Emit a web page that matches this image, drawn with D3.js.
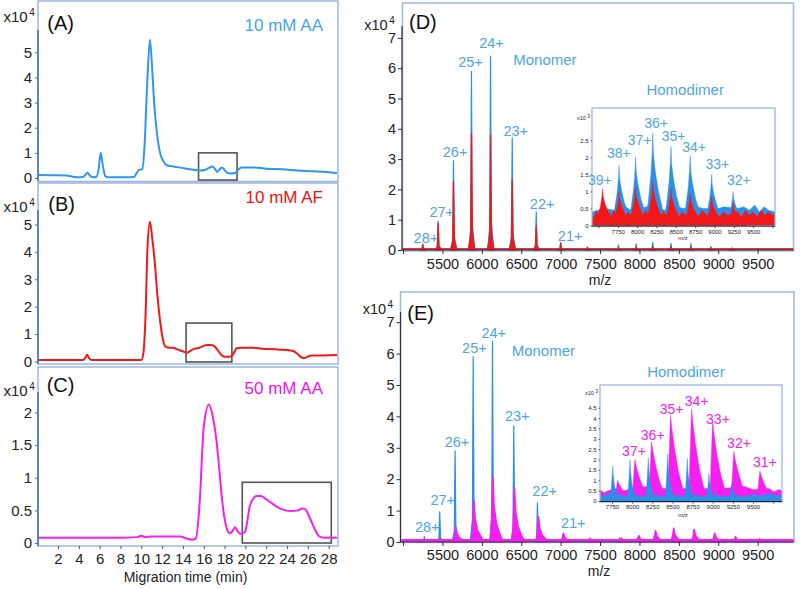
<!DOCTYPE html>
<html><head><meta charset="utf-8">
<script src="https://cdn.jsdelivr.net/npm/d3@7"></script>
<style>
body{margin:0;background:#fff}
svg{display:block}
text{font-family:"Liberation Sans",Arial,Helvetica,sans-serif}
</style>
</head><body>
<svg id="c" width="800" height="589"></svg>
<script>
// ---------------- DATA ----------------
// Capillary electrophoresis traces: [migration time (min), intensity x10^4]
const ceTicks = [2,4,6,8,10,12,14,16,18,20,22,24,26,28];
const ticksAB = [0,1,2,3,4,5];
const ticksC = [0,0.5,1,1.5,2];
const traceA = [[0.1,0.12],[1.5,0.11],[2.8,0.1],[3.3,0.06],[3.8,0.03],[4.4,0.04],[4.65,0.14],[4.85,0.21],[5.05,0.1],[5.35,0.03],[5.7,0.05],[5.9,0.35],[6.1,1.0],[6.3,0.5],[6.55,0.07],[6.8,0.03],[8.5,0.03],[9.3,0.04],[9.55,0.2],[9.8,0.32],[10.1,0.35],[10.3,1.2],[10.55,3.6],[10.83,5.5],[11.05,4.3],[11.25,2.9],[11.5,1.8],[11.8,1.0],[12.1,0.68],[12.5,0.5],[13.2,0.45],[14.2,0.38],[15.0,0.33],[15.6,0.3],[16.1,0.32],[16.5,0.4],[16.8,0.46],[17.05,0.38],[17.3,0.24],[17.55,0.36],[17.75,0.42],[18.0,0.32],[18.25,0.21],[18.6,0.18],[19.0,0.2],[19.3,0.32],[19.6,0.42],[20.7,0.42],[21.5,0.4],[22.3,0.36],[23.5,0.35],[25,0.3],[26.5,0.27],[27.8,0.24],[28.8,0.2]];
const traceB = [[0.1,0.05],[4.4,0.05],[4.65,0.15],[4.8,0.24],[4.95,0.14],[5.2,0.05],[10.0,0.05],[10.2,0.3],[10.4,1.6],[10.6,4.2],[10.83,5.1],[11.05,4.5],[11.3,3.6],[11.55,2.4],[11.8,1.5],[12.05,0.85],[12.3,0.55],[12.7,0.5],[13.05,0.5],[13.5,0.43],[13.9,0.38],[14.35,0.32],[14.7,0.38],[15.0,0.45],[15.6,0.5],[16.3,0.6],[16.7,0.6],[17.05,0.55],[17.4,0.38],[17.7,0.23],[18.0,0.17],[18.4,0.17],[18.7,0.2],[18.95,0.35],[19.15,0.48],[19.6,0.5],[20.8,0.5],[21.6,0.46],[22.4,0.45],[23.3,0.43],[24.0,0.42],[24.6,0.38],[25.0,0.27],[25.4,0.14],[25.7,0.12],[26.0,0.18],[26.4,0.22],[27.5,0.22],[28.8,0.23]];
const traceC = [[0.1,0.08],[2,0.08],[4,0.08],[6,0.08],[8,0.08],[9.6,0.09],[10,0.11],[10.4,0.09],[11,0.1],[12,0.1],[13,0.1],[13.8,0.1],[14.3,0.07],[14.9,0.05],[15.25,0.07],[15.6,0.6],[16.0,1.78],[16.5,2.12],[16.85,1.95],[17.2,1.6],[17.45,1.2],[17.7,0.76],[17.95,0.42],[18.2,0.23],[18.5,0.15],[18.75,0.18],[19.0,0.24],[19.25,0.18],[19.5,0.14],[19.95,0.17],[20.15,0.3],[20.4,0.55],[20.75,0.68],[21.1,0.72],[21.5,0.72],[21.9,0.68],[22.35,0.63],[23.3,0.53],[24.3,0.49],[25.05,0.5],[25.5,0.53],[25.75,0.52],[26.2,0.38],[26.7,0.2],[27.1,0.1],[27.6,0.08],[28.8,0.08]];
// highlight boxes: [tStart, tEnd, low, high]
const boxA = [15.5, 19.2, -0.08, 1.0];
const boxB = [14.3, 18.7, -0.02, 1.4];
const boxC = [19.7, 28.25, 0, 0.93];

// Mass spectra: peaks [m/z, intensity x10^4]
const mzTicks = [5000,5500,6000,6500,7000,7500,8000,8500,9000,9500];
const msTicks = [0,1,2,3,4,5,6,7];
const blueD = [[5250,0.2],[5445,0.95],[5640,2.95],[5868,5.9],[6110,6.4],[6385,3.7],[6690,1.25],[7000,0.25],[7340,0.1],[7732,0.17],[7958,0.2],[8168,0.25],[8400,0.22],[8653,0.2],[8906,0.12],[9180,0.07]];
const redD = [[5250,0.17],[5445,0.88],[5640,2.25],[5868,3.85],[6110,3.8],[6385,2.3],[6690,0.79],[7000,0.22],[7340,0.08],[7732,0.07],[7958,0.08],[8168,0.1],[8400,0.09],[8653,0.08],[8906,0.06],[9180,0.05]];
const blueBaseD = [[4980,0.03],[9955,0.03]];
const redBaseD = [[4980,0.04],[9955,0.04]];
const blueE = [[5270,0.17],[5465,0.96],[5660,2.9],[5890,5.9],[6135,6.4],[6405,3.7],[6705,1.25],[7020,0.12],[7350,0.1],[7750,0.15],[7975,0.15],[8185,0.18],[8415,0.16],[8670,0.12],[8925,0.1],[9200,0.06]];
const magentaE = [[5470,0.1],[5665,0.48],[5895,1.32],[6135,2.08],[6410,1.72],[6715,0.8],[7030,0.28],[7370,0.12],[7770,0.12],[7990,0.2],[8200,0.36],[8430,0.44],[8690,0.4],[8950,0.28],[9215,0.17],[9520,0.1]];
const blueBaseE = [[4980,0.02],[9955,0.02]];
const magentaBaseE = [[4980,0.07],[9955,0.07]];

// charge labels [text, m/z, intensity]
const labelsD = [["24+",6122,6.83],["25+",5855,6.2],["26+",5660,3.23],["23+",6430,3.93],["27+",5490,1.27],["28+",5290,0.39],["22+",6765,1.53],["21+",7120,0.48]];
const labelsE = [["24+",6150,6.67],["25+",5905,6.2],["26+",5685,3.2],["23+",6450,4.01],["27+",5503,1.34],["28+",5306,0.49],["22+",6797,1.62],["21+",7159,0.6]];
const groupLabelsD = [["Monomer",6800,6.27],["Homodimer",8580,5.31]];
const groupLabelsE = [["Monomer",6780,6.11],["Homodimer",8590,5.42]];

// Insets: intensity x10^3
const insetTicks = [7500,7750,8000,8250,8500,8750,9000,9250,9500,9750];
const insetYTicksD = [0,0.5,1,1.5,2,2.5];
const insetYTicksE = [0,0.5,1,1.5,2,2.5,3,3.5,4,4.5];
const blueDi = [[7554,0.55],[7767,1.76],[7981,2.02],[8203,2.72],[8438,2.32],[8686,2.06],[8964,1.5],[9241,1.0]];
const redDi = [[7554,1.08],[7767,0.98],[7981,1.12],[8203,1.3],[8438,1.08],[8686,0.95],[8964,0.85],[9241,0.65]];
const blueBandDi = [[7417,0.4],[7500,0.45],[7600,0.5],[7700,0.45],[7850,0.55],[7920,0.45],[8050,0.5],[8120,0.55],[8300,0.5],[8350,0.45],[8520,0.55],[8600,0.5],[8780,0.55],[8850,0.5],[9050,0.5],[9120,0.55],[9300,0.5],[9380,0.55],[9450,0.45],[9520,0.6],[9580,0.4],[9640,0.55],[9700,0.45],[9782,0.4]];
const redBandDi = [[7417,0.35],[7445,0.2],[7470,0.45],[7500,0.3],[7525,0.5],[7560,0.35],[7620,0.4],[7660,0.25],[7700,0.45],[7730,0.3],[7800,0.35],[7840,0.2],[7880,0.4],[7920,0.3],[8030,0.35],[8070,0.25],[8110,0.45],[8150,0.3],[8260,0.4],[8300,0.25],[8340,0.4],[8380,0.3],[8500,0.35],[8540,0.25],[8580,0.4],[8630,0.3],[8750,0.4],[8790,0.25],[8840,0.45],[8900,0.3],[9020,0.35],[9070,0.25],[9110,0.4],[9170,0.3],[9300,0.4],[9350,0.25],[9400,0.45],[9450,0.3],[9500,0.4],[9550,0.25],[9600,0.45],[9650,0.3],[9700,0.4],[9750,0.3],[9782,0.35]];
const blueEi = [[7759,1.7],[7973,2.0],[8200,2.1],[8441,2.27],[8684,2.06],[8953,1.3],[9235,0.85]];
const magentaEi = [[7820,1.0],[8035,2.0],[8242,2.87],[8478,4.15],[8739,4.45],[9000,3.85],[9263,2.4],[9586,1.45]];
const blueBandEi = [[7601,0.3],[7650,0.25],[7700,0.35],[7850,0.3],[7900,0.2],[8050,0.3],[8100,0.2],[8300,0.3],[8350,0.2],[8550,0.3],[8600,0.2],[8800,0.3],[8850,0.2],[9050,0.3],[9100,0.2],[9300,0.3],[9350,0.2],[9500,0.3],[9600,0.25],[9700,0.35],[9800,0.25],[9860,0.3]];
const magentaBandEi = [[7601,0.55],[7650,0.4],[7700,0.5],[7800,0.6],[7900,0.5],[8000,0.6],[8150,0.7],[8350,0.6],[8600,0.6],[8850,0.6],[9100,0.6],[9400,0.7],[9500,0.55],[9700,0.6],[9760,0.45],[9820,0.55],[9860,0.5]];
const labelsDi = [["39+",7519,1.34],["38+",7763,2.12],["37+",8032,2.51],["36+",8246,3.0],["35+",8472,2.63],["34+",8737,2.3],["33+",9036,1.81],["32+",9314,1.34]];
const labelsEi = [["37+",8023,2.42],["36+",8255,3.19],["35+",8491,4.45],["34+",8800,4.85],["33+",9065,3.97],["32+",9326,2.81],["31+",9648,1.89]];

// ---------------- STYLE ----------------
const C_FRAME = "#9cb6e3", C_AXIS_CE = "#3f6fc0", C_AXIS = "#333";
const C_BLUE_CE = "#2f97ee", C_RED = "#f01818", C_MAG = "#f520ef";
const C_BLUE = "#2d8fe8", C_LBL = "#4ea5e4", C_TXT = "#222";
// peak shapes: [m/z offset, fraction of height]
const shapeMain = [[-38,0],[-10,0.12],[0,1],[10,0.15],[42,0]];
const shapeMag = [[-25,0],[-8,0.45],[4,1],[20,0.55],[50,0.28],[100,0.1],[140,0]];
const shapeInsetD = [[-110,0],[-60,0.25],[-25,0.55],[-8,0.8],[0,1],[8,0.78],[30,0.6],[70,0.38],[120,0.2],[160,0]];
const shapeInsetBlueE = [[-45,0],[-20,0.3],[-6,0.75],[0,1],[8,0.7],[25,0.4],[55,0.15],[85,0]];
const shapeInsetMagE = [[-40,0],[-20,0.5],[-5,0.92],[0,1],[15,0.85],[50,0.6],[100,0.33],[150,0.15],[200,0]];

const svg = d3.select("#c");
const defs = svg.append("defs");
function clip(id,x,y,w,h){defs.append("clipPath").attr("id",id).append("rect").attr("x",x).attr("y",y).attr("width",w).attr("height",h);}
function txt(g,s,x,y,size,color,anchor){return g.append("text").attr("x",x).attr("y",y).attr("font-size",size).attr("fill",color).attr("text-anchor",anchor||"start").text(s);}
function ctxt(g,s,x,yc,size,color,anchor){return txt(g,s,x,yc+0.36*size,size,color,anchor||"middle");}
function frame(x,y,w,h,fill){svg.append("rect").attr("x",x).attr("y",y).attr("width",w).attr("height",h).attr("fill",fill||"none").attr("stroke",C_FRAME).attr("stroke-width",1.5);}
function styleAxis(g,size,color){
  g.select(".domain").remove();
  g.selectAll(".tick line").attr("stroke",color||C_AXIS);
  g.selectAll(".tick text").attr("font-size",size).attr("fill",C_TXT).attr("font-family",'"Liberation Sans",Arial,sans-serif');
}
function sup(g,x,yBase,size,supSize,exp){
  const t=txt(g,"x10",x,yBase,size,C_TXT);
  const w=t.node().getComputedTextLength();
  txt(g,exp,x+w+1.5,yBase-size*0.38,supSize,C_TXT);
}

// ---------------- CE PANELS ----------------
const xCE = d3.scaleLinear().domain([0,28.8]).range([37.2,337]);
const panels = [
  {id:"A",trace:traceA,box:boxA,color:C_BLUE_CE,y:d3.scaleLinear().domain([0,5]).range([178,52.3]),ticks:ticksAB,
   frame:[38,1,300,180.5],axisTop:30,axisBot:181,title:"10 mM AA",titleY:31,tColor:"#47a4e6",lab:[47.3,29.5],sup:22},
  {id:"B",trace:traceB,box:boxB,color:C_RED,y:d3.scaleLinear().domain([0,5]).range([361.4,224.5]),ticks:ticksAB,
   frame:[38,183,300,181],axisTop:210,axisBot:364,title:"10 mM AF",titleY:202.8,tColor:"#ee1111",lab:[48.3,211],sup:212},
  {id:"C",trace:traceC,box:boxC,color:C_MAG,y:d3.scaleLinear().domain([0,2.2]).range([543,399.4]),ticks:ticksC,
   frame:[38,367,300,179],axisTop:392,axisBot:546,title:"50 mM AA",titleY:394.4,tColor:"#ee11ee",lab:[46.7,392],sup:396}
];
panels.forEach(p=>{
  frame(...p.frame);
  const g = svg.append("g");
  clip("cl"+p.id,p.frame[0],p.frame[1],p.frame[2],p.frame[3]);
  const bx=p.box;
  g.append("rect").attr("x",xCE(bx[0])).attr("y",p.y(bx[3])).attr("width",xCE(bx[1])-xCE(bx[0]))
   .attr("height",p.y(bx[2])-p.y(bx[3])).attr("fill","none").attr("stroke","#555").attr("stroke-width",1.6);
  g.append("path").datum(p.trace).attr("clip-path","url(#cl"+p.id+")")
   .attr("d",d3.line().x(d=>xCE(d[0])).y(d=>p.y(d[1])).curve(d3.curveMonotoneX))
   .attr("fill","none").attr("stroke",p.color).attr("stroke-width",2);
  const ya = g.append("g").attr("transform","translate(38,0)")
   .call(d3.axisLeft(p.y).tickValues(p.ticks).tickSize(3).tickPadding(3).tickFormat(d=>d));
  styleAxis(ya,15,C_AXIS_CE);
  g.append("line").attr("x1",38).attr("x2",38).attr("y1",p.axisTop).attr("y2",p.axisBot).attr("stroke",C_AXIS_CE).attr("stroke-width",1.5);
  txt(g,"("+p.id+")",p.lab[0],p.lab[1],20,"#111");
  txt(g,p.title,323,p.titleY,17,p.tColor,"end");
  sup(g,3.5,p.sup,15,10,"4");
});
// C x axis
const xa = svg.append("g").attr("transform","translate(0,546)")
  .call(d3.axisBottom(xCE).tickValues(ceTicks).tickSize(3).tickPadding(4.5));
styleAxis(xa,15,"#555");
txt(svg,"Migration time (min)",185.5,581.5,14,C_TXT,"middle");

// ---------------- MS PANELS ----------------
function drawSpectrum(g,xs,ys,band,peaks,shape,color,lw){
  const area=d3.area().x(d=>xs(d[0])).y0(ys(0)).y1(d=>ys(d[1]));
  if(band){
    g.append("path").datum(band).attr("d",area).attr("fill",color);
    g.append("path").datum(band).attr("d",d3.line().x(d=>xs(d[0])).y(d=>ys(d[1]))).attr("fill","none").attr("stroke",color).attr("stroke-width",lw);
  }
  peaks.forEach(p=>{
    const pts=shape.map(s=>[p[0]+s[0],s[1]*p[1]]);
    g.append("path").datum(pts).attr("d",area).attr("fill",color)
     .attr("stroke",color).attr("stroke-width",lw).attr("stroke-linejoin","round");
  });
}
const xMS = d3.scaleLinear().domain([4980,9955]).range([401.5,793.5]);

function msPanel(o){
  frame(...o.frame);
  const g=svg.append("g");
  clip("cl"+o.id,o.frame[0],o.frame[1],o.frame[2],o.y(0)-o.frame[1]+0.5);
  const sg=g.append("g").attr("clip-path","url(#cl"+o.id+")");
  o.series.forEach(s=>drawSpectrum(sg,xMS,o.y,s.base,s.peaks,s.shape,s.color,s.lw));
  // axes
  const ya=g.append("g").attr("transform",`translate(${o.axisX},0)`)
    .call(d3.axisLeft(o.y).tickValues(msTicks).tickSize(4).tickPadding(2).tickFormat(d=>d));
  styleAxis(ya,14.5);
  g.append("line").attr("x1",o.axisX).attr("x2",o.axisX).attr("y1",o.axisTop).attr("y2",o.y(0)).attr("stroke",C_AXIS).attr("stroke-width",1.2);
  const xa=g.append("g").attr("transform",`translate(0,${o.y(0)})`)
    .call(d3.axisBottom(xMS).tickValues(mzTicks).tickSize(4).tickPadding(o.pad).tickFormat(d=>d>=5500?d:""));
  styleAxis(xa,14.5);
  g.append("line").attr("x1",o.axisX).attr("x2",793.5).attr("y1",o.y(0)).attr("y2",o.y(0)).attr("stroke",C_AXIS).attr("stroke-width",1.2);
  txt(g,"m/z",o.mz[0],o.mz[1],14,C_TXT,"middle");
  txt(g,"("+o.id+")",o.lab[0],o.lab[1],20,"#111");
  sup(g,o.sup[0],o.sup[1],14.5,10,"4");
  // inset
  const ins=o.inset, ig=svg.append("g");
  ig.append("rect").attr("x",ins.frame[0]).attr("y",ins.frame[1]).attr("width",ins.frame[2]).attr("height",ins.frame[3]).attr("fill","#fff");
  clip("ci"+o.id,ins.frame[0],ins.frame[1],ins.frame[2],ins.y(0)-ins.frame[1]);
  const isg=ig.append("g").attr("clip-path","url(#ci"+o.id+")");
  ins.series.forEach(s=>drawSpectrum(isg,ins.x,ins.y,s.base,s.peaks,s.shape,s.color,s.lw));
  ig.append("rect").attr("x",ins.frame[0]).attr("y",ins.frame[1]).attr("width",ins.frame[2]).attr("height",ins.frame[3])
    .attr("fill","none").attr("stroke",C_FRAME).attr("stroke-width",1.3);
  ig.append("line").attr("x1",ins.frame[0]).attr("x2",ins.frame[0]+ins.frame[2]).attr("y1",ins.y(0)+0.5).attr("y2",ins.y(0)+0.5).attr("stroke","#222").attr("stroke-width",1);
  const iya=ig.append("g").attr("transform",`translate(${ins.frame[0]},0)`)
    .call(d3.axisLeft(ins.y).tickValues(ins.yticks).tickSize(1.5).tickPadding(2).tickFormat(d=>d));
  styleAxis(iya,6,"#666");
  const ixa=ig.append("g").attr("transform",`translate(0,${ins.y(0)+0.5})`)
    .call(d3.axisBottom(ins.x).tickValues(insetTicks.filter(t=>t>=ins.x.domain()[0]&&t<=ins.x.domain()[1])).tickSize(2).tickPadding(1.5).tickFormat(d=>(d>=7750&&d<=9500)?d:""));
  styleAxis(ixa,6,"#444");
  txt(ig,"m/z",ins.mz[0],ins.mz[1],6,C_TXT,"middle");
  const s3=txt(ig,"x10",ins.sup[0],ins.sup[1],5.5,C_TXT);
  txt(ig,"3",ins.sup[0]+s3.node().getComputedTextLength()+1.5,ins.sup[1]-2.5,4.5,C_TXT);
  // labels
  o.labels.forEach(l=>ctxt(svg,l[0],xMS(l[1]),o.y(l[2]),14.5,C_LBL));
  o.groups.forEach(l=>ctxt(svg,l[0],xMS(l[1]),o.y(l[2]),15,C_LBL));
  ins.labels.forEach(l=>ctxt(svg,l[0],ins.x(l[1]),ins.y(l[2]),14,ins.lcolor));
}

msPanel({
  id:"D", frame:[402.5,3,391,248], axisX:402, axisTop:26,
  y:d3.scaleLinear().domain([0,7]).range([250,37.9]), pad:5,
  series:[{base:blueBaseD,peaks:blueD,shape:shapeMain,color:C_BLUE,lw:1.2},
          {base:redBaseD,peaks:redD,shape:shapeMain,color:C_RED,lw:1.3}],
  mz:[600,285], lab:[409,29], sup:[364.3,30],
  labels:labelsD, groups:groupLabelsD,
  inset:{frame:[592,108,183,118.5], x:d3.scaleLinear().domain([7417,9782]).range([592,775]),
    y:d3.scaleLinear().domain([0,3.45]).range([225.5,108]), yticks:insetYTicksD,
    series:[{base:blueBandDi,peaks:blueDi,shape:shapeInsetD,color:C_BLUE,lw:0.4},
            {base:redBandDi,peaks:redDi,shape:shapeInsetD,color:C_RED,lw:0.4}],
    mz:[683,240], sup:[577,120], labels:labelsDi, lcolor:C_LBL}
});
msPanel({
  id:"E", frame:[400.5,292,393.5,250.5], axisX:400.5, axisTop:312,
  y:d3.scaleLinear().domain([0,7]).range([542,322.2]), pad:4,
  series:[{base:blueBaseE,peaks:blueE,shape:shapeMain,color:C_BLUE,lw:1.2},
          {base:magentaBaseE,peaks:magentaE,shape:shapeMag,color:C_MAG,lw:1.6}],
  mz:[599,576], lab:[407.3,319.7], sup:[362.7,313.5],
  labels:labelsE, groups:groupLabelsE,
  inset:{frame:[600,385,182,117], x:d3.scaleLinear().domain([7601,9860]).range([600,782]),
    y:d3.scaleLinear().domain([0,5.6]).range([501,385]), yticks:insetYTicksE,
    series:[{base:magentaBandEi,peaks:magentaEi,shape:shapeInsetMagE,color:C_MAG,lw:0.4},
            {base:blueBandEi,peaks:blueEi,shape:shapeInsetBlueE,color:C_BLUE,lw:0.4}],
    mz:[683,517], sup:[585,395], labels:labelsEi, lcolor:C_MAG}
});
</script>
</body></html>
